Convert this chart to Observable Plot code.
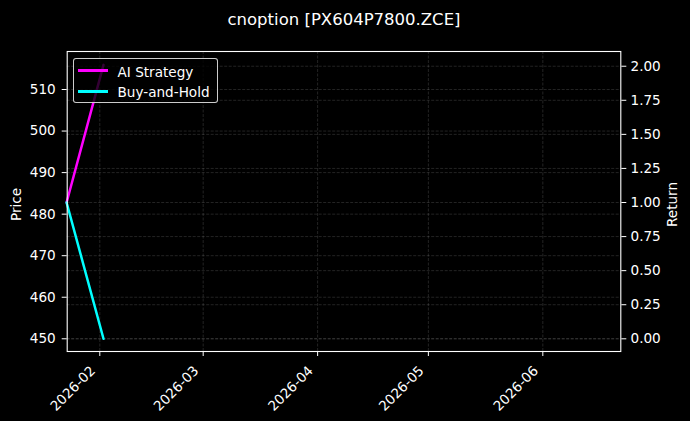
<!DOCTYPE html>
<html>
<head>
<meta charset="utf-8">
<script src="https://cdn.jsdelivr.net/npm/d3@7"></script>
<script src="https://cdn.jsdelivr.net/npm/@observablehq/plot@0.6"></script>
<style>
  html, body { margin: 0; padding: 0; background: #000; }
  #wrap { position: relative; width: 690px; height: 421px; background: #000; font-family: "DejaVu Sans", sans-serif; }
  #legend { position: absolute; left: 73px; top: 58px; width: 145px; height: 45px; box-sizing: border-box;
    background: rgba(0,0,0,0.8); border: 1px solid rgba(255,255,255,0.8); border-radius: 3px; }
  .sw { position: absolute; left: 4px; width: 30px; height: 2.6px; }
  .lt { position: absolute; left: 43.5px; font-size: 13.6px; line-height: 16px; color: #fff; white-space: nowrap; }
</style>
</head>
<body>
<div id="wrap"></div>
<script>
// ---- data ----
const title = "cnoption [PX604P7800.ZCE]";
const seriesNames = ["AI Strategy", "Buy-and-Hold"];
const seriesColors = ["#ff00ff", "#00ffff"];
const dates = ["2026-01-23", "2026-02-02"];
const aiStrategy = [1.0, 2.01];
const buyAndHold = [1.0, 0.0];
const priceTicks = [450, 460, 470, 480, 490, 500, 510];
const returnTicks = [0, 0.25, 0.5, 0.75, 1.0, 1.25, 1.5, 1.75, 2.0];
const monthTicks = ["2026-02-01", "2026-03-01", "2026-04-01", "2026-05-01", "2026-06-01"];
const priceDomain = [446.94, 519.15];
const returnDomain = [-0.0932, 2.108];
const xDomain = ["2026-01-23T04:00:00Z", "2026-06-22T03:00:00Z"];

// ---- build ----
const parse = (s) => new Date(s.length === 10 ? s + "T00:00:00Z" : s);
const rows = [];
dates.forEach((d, i) => {
  rows.push({date: parse(d), value: aiStrategy[i], series: seriesNames[0]});
  rows.push({date: parse(d), value: buyAndHold[i], series: seriesNames[1]});
});
const p2r = (p) => returnDomain[0] + (p - priceDomain[0]) / (priceDomain[1] - priceDomain[0]) * (returnDomain[1] - returnDomain[0]);
const r2p = (r) => priceDomain[0] + (r - returnDomain[0]) / (returnDomain[1] - returnDomain[0]) * (priceDomain[1] - priceDomain[0]);
const xTicks = monthTicks.map(parse);
const fmtMonth = d3.utcFormat("%Y-%m");
const gridStyle = {stroke: "#fff", strokeOpacity: 0.2, strokeWidth: 0.7, strokeDasharray: "3,1.5"};

const chart = Plot.plot({
  width: 690,
  height: 421,
  marginLeft: 66.7,
  marginRight: 69.7,
  marginTop: 51,
  marginBottom: 70,
  style: {background: "#000", color: "#fff", fontFamily: "DejaVu Sans, sans-serif", fontSize: "13.6px"},
  x: {type: "utc", domain: xDomain.map(parse)},
  y: {domain: returnDomain},
  color: {domain: seriesNames, range: seriesColors},
  marks: [
    Plot.gridX(xTicks, gridStyle),
    Plot.gridY(priceTicks.map(p2r), gridStyle),
    Plot.gridY(returnTicks, gridStyle),
    Plot.line(rows, {x: "date", y: "value", z: "series", stroke: "series", strokeWidth: 2.5}),
    Plot.frame({stroke: "#fff", strokeWidth: 1.1}),
    Plot.axisY(priceTicks.map(p2r), {anchor: "left", tickSize: 5, tickPadding: 6.5, label: null,
      tickFormat: (d) => String(Math.round(r2p(d)))}),
    Plot.axisY(returnTicks, {anchor: "right", tickSize: 5, tickPadding: 4.7, label: null,
      tickFormat: d3.format(".2f")}),
    Plot.axisX(xTicks, {tickSize: 5, label: null, tickFormat: () => ""}),
    Plot.text(xTicks, {x: (d) => d, frameAnchor: "bottom", text: (d) => fmtMonth(d), rotate: -45,
      textAnchor: "end", lineAnchor: "middle", dx: -6.8, dy: 17, fill: "#fff"}),
    Plot.text([title], {text: (d) => d, frameAnchor: "top", dy: -31.3, lineAnchor: "middle", fontSize: 16.5, fill: "#fff"}),
    Plot.text(["Price"], {text: (d) => d, frameAnchor: "left", dx: -50.2, dy: 3, rotate: -90,
      textAnchor: "middle", lineAnchor: "middle", fill: "#fff"}),
    Plot.text(["Return"], {text: (d) => d, frameAnchor: "right", dx: 51.7, dy: 3, rotate: -90,
      textAnchor: "middle", lineAnchor: "middle", fill: "#fff"})
  ]
});

const wrap = document.getElementById("wrap");
wrap.appendChild(chart);

// legend
const legend = document.createElement("div");
legend.id = "legend";
seriesNames.forEach((name, i) => {
  const sw = document.createElement("div");
  sw.className = "sw";
  sw.style.top = (10 + i * 21.4) + "px";
  sw.style.background = seriesColors[i];
  legend.appendChild(sw);
  const t = document.createElement("div");
  t.className = "lt";
  t.style.top = (4.8 + i * 20.3) + "px";
  t.textContent = name;
  legend.appendChild(t);
});
wrap.appendChild(legend);
</script>
</body>
</html>
